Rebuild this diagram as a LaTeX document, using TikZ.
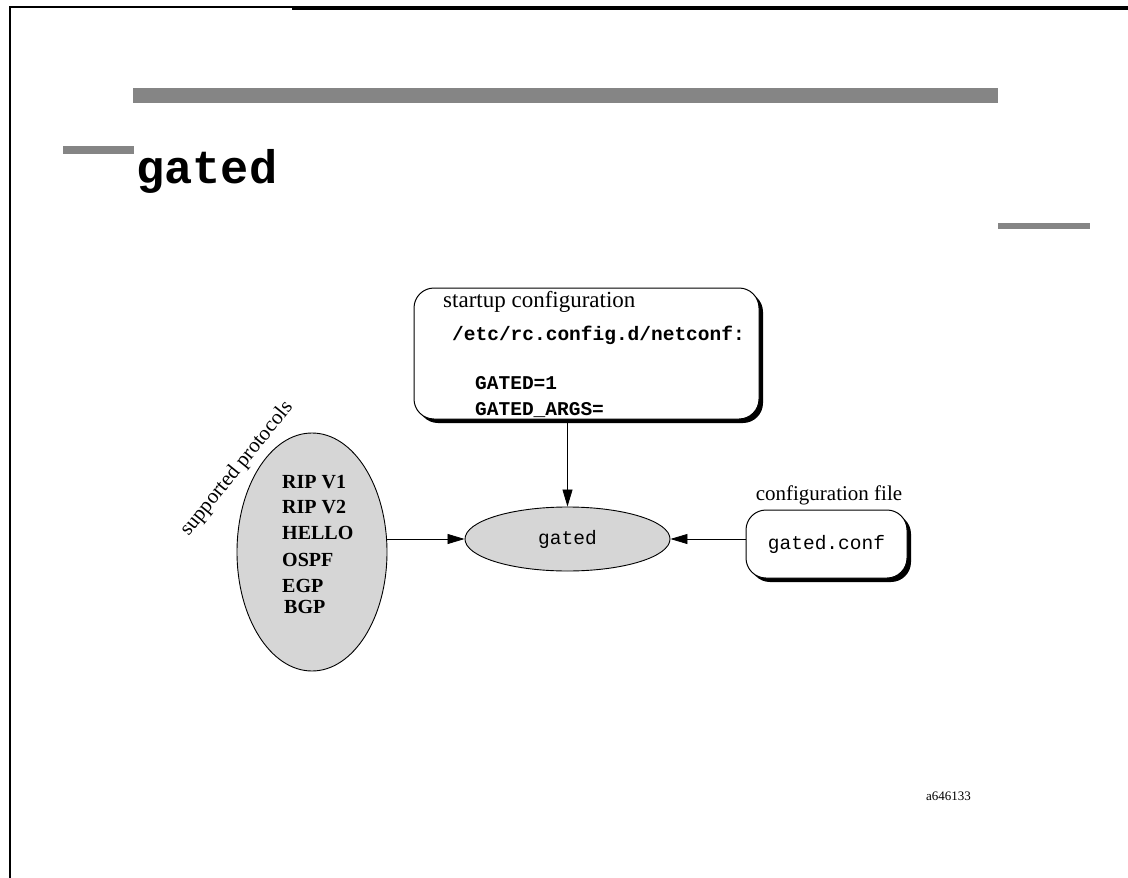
\documentclass[tikz,border=0pt]{standalone}
\usepackage{fontspec}
\setmainfont{Liberation Serif}
\setmonofont{Liberation Mono}
\usetikzlibrary{arrows.meta,shapes.geometric,shadows}
\definecolor{bargray}{gray}{0.52}
\definecolor{ellgray}{gray}{0.84}
\begin{document}
\begin{tikzpicture}[x=1pt,y=-1pt,
  arr/.style={line width=0.8pt,-{Triangle[length=17pt,width=10pt]}},
  shbox/.style={draw,line width=1pt,fill=white,rounded corners=20pt,
    drop shadow={shadow xshift=4pt,shadow yshift=-4pt,fill=black,opacity=1}},
  serif/.style={font=\fontsize{21}{24}\selectfont},
  monob/.style={font=\fontsize{19.5}{22}\selectfont\ttfamily\bfseries},
  monor/.style={font=\fontsize{19.5}{22}\selectfont\ttfamily},
  proto/.style={anchor=base west,inner sep=0pt,font=\fontsize{20}{22}\selectfont\bfseries},
  ell/.style={ellipse,draw,line width=0.9pt,fill=ellgray,inner sep=0pt}]
\useasboundingbox (0,0) rectangle (1128,878);
% frame
\draw[line width=2pt] (9.5,878) -- (9.5,7) -- (292,7);
\fill (292,6) rectangle (1128,10);
% bars
\fill[bargray] (133,88) rectangle (998,103);
\fill[bargray] (63,146) rectangle (134,154);
\fill[bargray] (998,223) rectangle (1090,229);
% title
\node[anchor=base west,inner sep=0pt,font=\fontsize{47}{50}\selectfont\ttfamily\bfseries] (title) at (136,183) {gated};
% startup box
\node[shbox,minimum width=345pt,minimum height=131pt] (startup) at (586.5,353.5) {};
\node[anchor=base west,inner sep=0pt,font=\fontsize{23}{26}\selectfont] (st) at (443,307) {startup configuration};
\node[monob,anchor=base west,inner sep=0pt] (nc) at (452,340) {/etc/rc.config.d/netconf:};
\node[monob,anchor=base west,inner sep=0pt] (g1) at (475,389) {GATED=1};
\node[monob,anchor=base west,inner sep=0pt] (g2) at (475,415) {GATED\_ARGS=};
% gated ellipse
\node[ell,minimum width=205pt,minimum height=64pt,monor] (gated) at (567.5,539) {gated};
% config box
\node[shbox,minimum width=161pt,minimum height=68pt,monor] (config) at (826.5,544) {gated.conf};
\node[serif,anchor=base,inner sep=0pt] (cfl) at (829,500) {configuration file};
% protocols ellipse
\node[ell,minimum width=150pt,minimum height=238pt] (proto) at (312,552) {};
\node[proto] (p1) at (282,488) {RIP V1};
\node[proto] (p2) at (282,513) {RIP V2};
\node[proto] (p3) at (282,539) {HELLO};
\node[proto] (p4) at (282,566) {OSPF};
\node[proto] (p5) at (282,592) {EGP};
\node[proto] (p6) at (284,613) {BGP};
\node[serif,rotate=51,inner sep=0pt] (sp) at (237,469) {supported protocols};
% connectors
\draw[arr] (startup.south -| gated.north) -- (gated.north);
\draw[arr] (gated.west -| proto.east) -- (gated.west);
\draw[arr] (config.west |- gated.east) -- (gated.east);
% footer
\node[anchor=base west,inner sep=0pt,font=\fontsize{13}{15}\selectfont] (code) at (926,800) {a646133};
\end{tikzpicture}
\end{document}
